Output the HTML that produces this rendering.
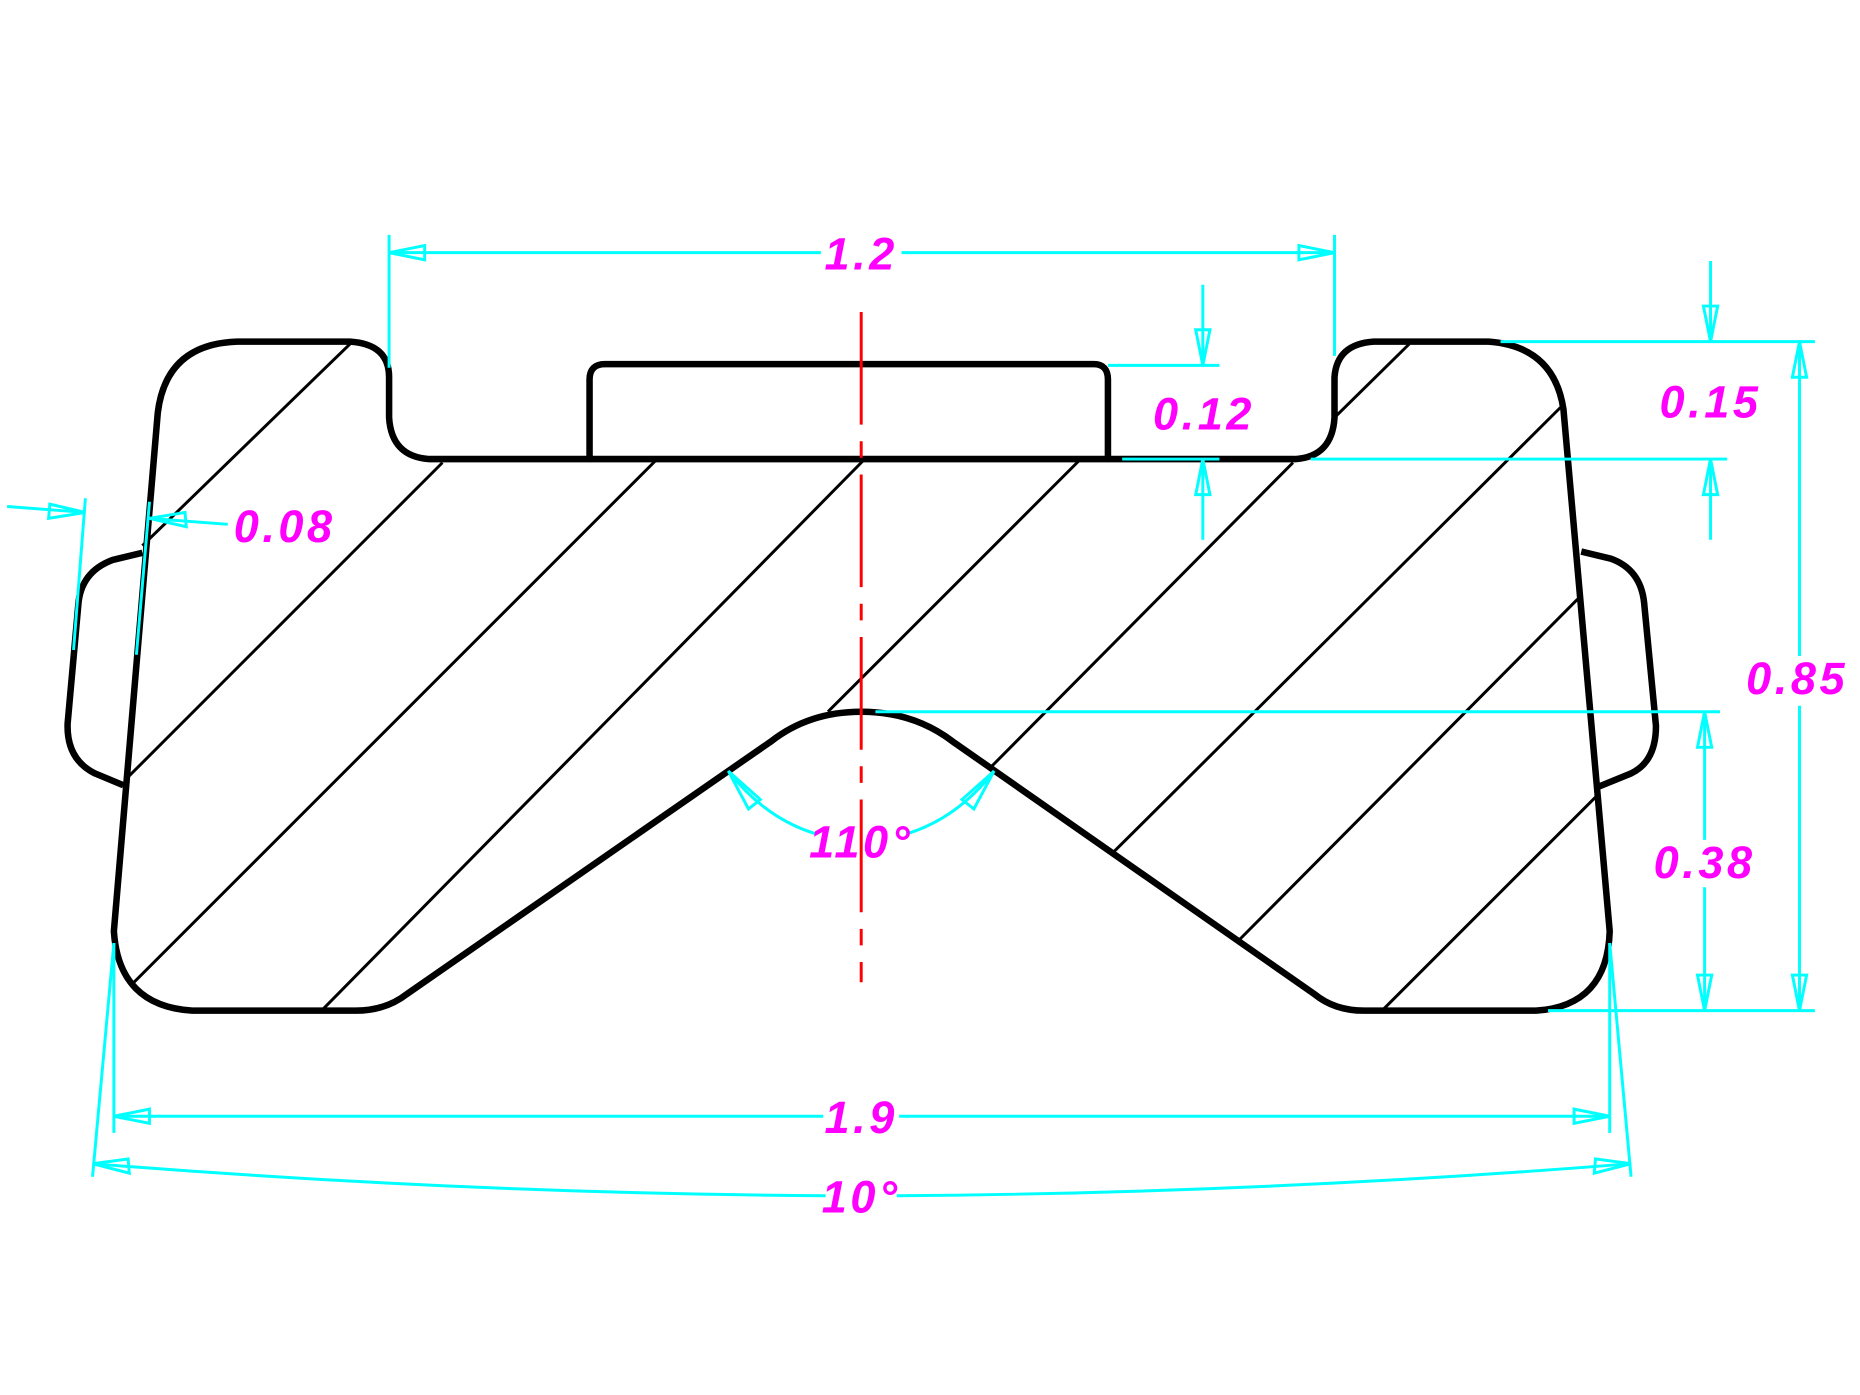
<!DOCTYPE html>
<html><head><meta charset="utf-8"><style>html,body{margin:0;padding:0;background:#fff}svg{display:block}</style></head>
<body>
<svg width="1860" height="1395" viewBox="0 0 1568 1176" xmlns="http://www.w3.org/2000/svg">
<rect width="1568" height="1176" fill="#fff"/>
<g stroke="#000" stroke-width="2.5" fill="none">
<line x1="120" y1="460" x2="295" y2="290"/>
<line x1="108" y1="655" x2="373" y2="390"/>
<line x1="113" y1="828" x2="553" y2="388"/>
<line x1="271" y1="852" x2="728" y2="388"/>
<line x1="698" y1="600" x2="910" y2="388"/>
<line x1="835" y1="647" x2="1090" y2="390"/>
<line x1="1125" y1="352" x2="1188" y2="290"/>
<line x1="939" y1="718" x2="1316" y2="343"/>
<line x1="1045" y1="792" x2="1330" y2="505"/>
<line x1="1165" y1="852" x2="1345" y2="672"/>
</g>
<g stroke="#000" stroke-width="5.5" fill="none" stroke-linejoin="round">
<path d="M96 785 L133 348 Q140 290 200 288 L295 288 Q328 290 328 318 L328 352 Q330 385 362 387 L497 387 L497 320 Q497 307 510 307 L922 307 Q934 307 934 320 L934 387 L1092 387 Q1123 385 1125 352 L1125 318 Q1127 290 1158 288 L1255 288 Q1310 292 1318 345 L1357 785 Q1355 848 1295 852 L1150 852 Q1125 852 1108 838 L803 625 Q770 600 726 600 Q682 600 650 625 L343 838 Q325 852 300 852 L162 852 Q100 848 96 785 Z"/>
<line x1="497" y1="387" x2="934" y2="387"/>
<path d="M120 466 L95 472 Q68 482 66 510 L57 610 Q56 640 80 652 L104 662"/>
<path d="M1333 465 L1358 471 Q1383 480 1386 508 L1396 612 Q1396 642 1375 652 L1348 663"/>
</g>
<line x1="726" y1="263" x2="726" y2="828" stroke="#ff0000" stroke-width="2.5" stroke-dasharray="95 14 14 14"/>
<g stroke="#00ffff" stroke-width="2.5" fill="none">
<line x1="328" y1="198" x2="328" y2="310"/>
<line x1="1125" y1="198" x2="1125" y2="300"/>
<line x1="328" y1="213" x2="692" y2="213"/>
<line x1="760" y1="213" x2="1125" y2="213"/>
<line x1="934" y1="308" x2="1028" y2="308"/>
<line x1="946" y1="387" x2="1028" y2="387"/>
<line x1="1014" y1="240" x2="1014" y2="308"/>
<line x1="1014" y1="387" x2="1014" y2="455"/>
<line x1="1265" y1="288" x2="1530" y2="288"/>
<line x1="1105" y1="387" x2="1456" y2="387"/>
<line x1="1442" y1="220" x2="1442" y2="288"/>
<line x1="1442" y1="387" x2="1442" y2="455"/>
<line x1="1517" y1="288" x2="1517" y2="553"/>
<line x1="1517" y1="595" x2="1517" y2="852"/>
<line x1="738" y1="600" x2="1450" y2="600"/>
<line x1="1305" y1="852" x2="1530" y2="852"/>
<line x1="1437" y1="600" x2="1437" y2="708"/>
<line x1="1437" y1="748" x2="1437" y2="852"/>
<line x1="6" y1="427" x2="72" y2="432"/>
<line x1="72" y1="420" x2="62" y2="548"/>
<line x1="126" y1="423" x2="115" y2="552"/>
<line x1="126" y1="437" x2="192" y2="442"/>
<path d="M614 650 Q645 690 688 703"/>
<path d="M764 703 Q807 690 838 650"/>
<line x1="96" y1="795" x2="96" y2="955"/>
<line x1="1357" y1="795" x2="1357" y2="955"/>
<line x1="96" y1="941" x2="694" y2="941"/>
<line x1="758" y1="941" x2="1357" y2="941"/>
<line x1="96" y1="795" x2="78" y2="992"/>
<line x1="1357" y1="795" x2="1375" y2="992"/>
<path d="M78 981 Q390 1006 696 1008"/>
<path d="M756 1008 Q1062 1006 1375 981"/>
<polygon points="328,213 358,207 358,219"/>
<polygon points="1125,213 1095,207 1095,219"/>
<polygon points="1014,308 1008,278 1020,278"/>
<polygon points="1014,387 1008,417 1020,417"/>
<polygon points="1442,288 1436,258 1448,258"/>
<polygon points="1442,387 1436,417 1448,417"/>
<polygon points="1517,288 1511,318 1523,318"/>
<polygon points="1517,852 1511,822 1523,822"/>
<polygon points="1437,600 1431,630 1443,630"/>
<polygon points="1437,852 1431,822 1443,822"/>
<polygon points="96,941 126,935 126,947"/>
<polygon points="1357,941 1327,935 1327,947"/>
<polygon points="78,981 108,977 109,989"/>
<polygon points="1375,981 1345,977 1344,989"/>
<polygon points="72,432 42,425 41,437"/>
<polygon points="126,437 156,432 157,444"/>
<polygon points="614,650 631,682 641,674"/>
<polygon points="838,650 821,682 811,674"/>
</g>
<g fill="#ff00ff" font-family="Liberation Sans, sans-serif" font-style="italic" font-weight="bold" font-size="38" text-anchor="middle" letter-spacing="3">
<text x="726" y="227">1.2</text>
<text x="1015" y="362">0.12</text>
<text x="1442" y="352">0.15</text>
<text x="1515" y="585">0.85</text>
<text x="1437" y="740">0.38</text>
<text x="240" y="457">0.08</text>
<text x="726" y="723">110°</text>
<text x="726" y="955">1.9</text>
<text x="726" y="1022">10°</text>
</g>
</svg>
</body></html>
